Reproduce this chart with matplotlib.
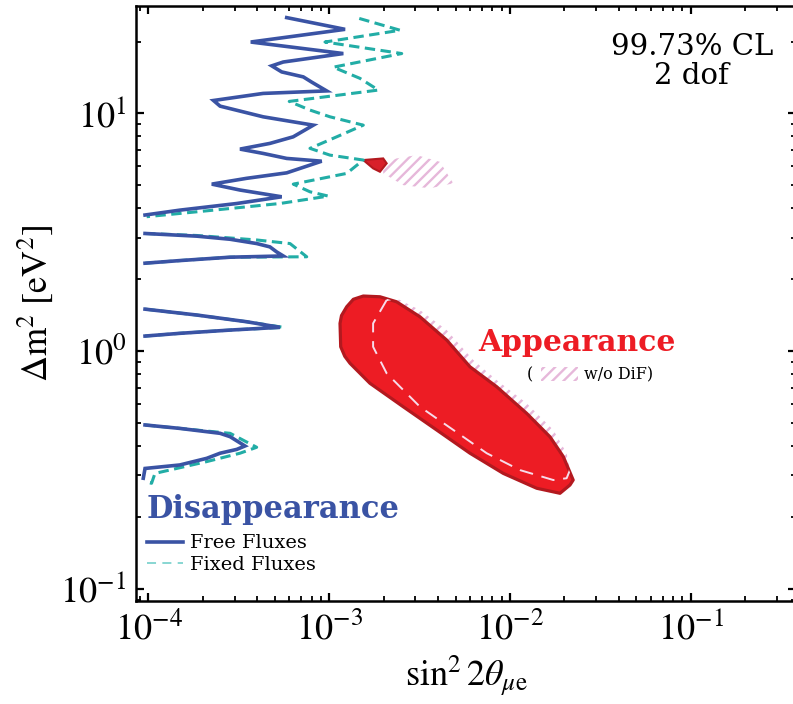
import matplotlib
matplotlib.use("Agg")
import matplotlib.pyplot as plt
from matplotlib.patches import Polygon, Rectangle
from matplotlib.lines import Line2D

plt.rcParams['font.family'] = ['STIXGeneral', 'DejaVu Serif']
plt.rcParams['mathtext.fontset'] = 'stix'
plt.rcParams['hatch.linewidth'] = 1.7

# ---------------- data ----------------
# Disappearance, free fluxes (solid blue), segments from top to bottom
free_a_x = [5.82e-4, 1.224e-3, 3.68e-4, 1.197e-3, 5.57e-4, 4.81e-4, 5.46e-4, 7.19e-4, 8.0e-4,
            9.68e-4, 4.31e-4, 2.29e-4, 2.49e-4, 4.31e-4, 8.17e-4, 6.32e-4, 4.70e-4, 3.21e-4,
            4.31e-4, 5.82e-4, 9.09e-4, 5.82e-4, 3.49e-4, 2.24e-4, 3.21e-4, 5.46e-4, 3.08e-4,
            1.49e-4, 9.57e-5]
free_a_y = [25.2, 22.5, 19.9, 17.8, 16.4, 15.8, 14.9, 14.2, 13.5,
            12.4, 12.1, 11.3, 10.7, 9.65, 8.9, 7.95, 7.46, 7.06,
            6.77, 6.45, 6.28, 5.61, 5.32, 5.03, 4.75, 4.45, 4.17,
            3.91, 3.73]
free_b_x = [9.57e-5, 1.85e-4, 2.83e-4, 3.97e-4, 4.70e-4, 5.12e-4, 5.57e-4, 2.83e-4, 1.49e-4, 9.57e-5]
free_b_y = [3.12, 3.04, 2.95, 2.83, 2.74, 2.61, 2.51, 2.48, 2.40, 2.34]
free_c_x = [9.57e-5, 1.85e-4, 3.49e-4, 5.34e-4, 2.83e-4, 1.49e-4, 9.57e-5]
free_c_y = [1.50, 1.417, 1.328, 1.258, 1.225, 1.187, 1.156]
free_d_x = [9.57e-5, 1.49e-4, 2.49e-4, 2.83e-4, 3.42e-4, 3.08e-4, 2.49e-4, 2.10e-4, 1.49e-4,
            9.57e-5, 9.36e-5]
free_d_y = [0.489, 0.473, 0.451, 0.4365, 0.399, 0.386, 0.372, 0.354, 0.332, 0.321, 0.292]

# Disappearance, fixed fluxes (dashed teal)
fixed_a_x = [1.467e-3, 2.47e-3, 9.48e-4, 2.52e-3, 1.054e-3, 1.48e-3, 1.87e-3, 6.01e-4, 7.83e-4,
             1.01e-3, 1.544e-3, 1.10e-3, 7.83e-4, 1.01e-3, 1.544e-3, 1.25e-3, 6.33e-4, 7.83e-4,
             9.89e-4, 5.34e-4, 2.29e-4, 9.77e-5]
fixed_a_y = [25.0, 22.3, 19.9, 17.8, 15.6, 14.0, 12.5, 11.2, 10.3,
             9.65, 8.9, 7.95, 7.11, 6.66, 6.35, 5.58, 5.03, 4.67,
             4.48, 4.17, 3.91, 3.67]
fixed_b_x = [9.57e-5, 1.85e-4, 3.97e-4, 6.07e-4, 7.51e-4, 2.83e-4, 1.49e-4, 9.57e-5]
fixed_b_y = [3.12, 3.06, 2.93, 2.83, 2.49, 2.48, 2.40, 2.34]
fixed_c_x = [9.57e-5, 1.85e-4, 3.49e-4, 5.57e-4, 2.83e-4, 1.49e-4, 9.57e-5]
fixed_c_y = [1.50, 1.417, 1.328, 1.258, 1.225, 1.187, 1.156]
fixed_d_x = [9.57e-5, 1.49e-4, 2.83e-4, 3.97e-4, 3.21e-4, 2.10e-4, 1.086e-4, 1.04e-4, 9.57e-5]
fixed_d_y = [0.489, 0.473, 0.451, 0.394, 0.372, 0.343, 0.306, 0.278, 0.283]

# Appearance (filled red)
app_x = [1.544e-3, 1.36e-3, 1.25e-3, 1.17e-3, 1.148e-3, 1.158e-3, 1.22e-3, 1.304e-3, 1.68e-3,
         2.57e-3, 3.93e-3, 6.01e-3, 9.19e-3, 1.407e-2, 1.893e-2, 2.15e-2, 2.24e-2, 1.975e-2,
         1.667e-2, 1.239e-2, 8.45e-3, 6.01e-3, 4.47e-3, 3.18e-3, 2.36e-3, 1.91e-3]
app_y = [1.703, 1.65, 1.535, 1.41, 1.307, 1.042, 0.95, 0.888, 0.732,
         0.583, 0.466, 0.372, 0.306, 0.265, 0.2524, 0.2735, 0.287, 0.36,
         0.436, 0.547, 0.708, 0.859, 1.112, 1.393, 1.611, 1.691]
app_small_x = [1.544e-3, 1.99e-3, 2.08e-3, 1.91e-3, 1.75e-3]
app_small_y = [6.35, 6.45, 6.15, 5.67, 5.86]

# Appearance without DiF (hatched)
nodif_x = [2.08e-3, 1.75e-3, 1.75e-3, 2.08e-3, 3.18e-3, 4.86e-3, 7.44e-3, 1.137e-2, 1.738e-2,
           2.06e-2, 2.15e-2, 2.06e-2, 1.738e-2, 1.239e-2, 8.45e-3, 6.27e-3, 4.47e-3, 3.18e-3,
           2.36e-3]
nodif_y = [1.638, 1.307, 1.042, 0.806, 0.583, 0.466, 0.372, 0.316, 0.287,
           0.292, 0.316, 0.372, 0.466, 0.603, 0.755, 0.917, 1.225, 1.487,
           1.665]
nodif_small_x = [1.99e-3, 2.36e-3, 3.05e-3, 4.10e-3, 4.86e-3, 3.61e-3, 2.57e-3, 1.99e-3]
nodif_small_y = [6.15, 6.45, 6.66, 6.24, 5.07, 4.83, 4.98, 5.58]

x_limits = [8.53e-5, 0.383]
y_limits = [0.089, 28.2]

# ---------------- styles ----------------
BLUE = '#3a53a4'
TEAL = '#22ada6'
RED = '#ed1c24'
DARKRED = '#b3191f'
PINK = '#e6b8da'

fig = plt.figure(figsize=(7.93, 7.04), dpi=100)
ax = fig.add_axes([136 / 793, 1 - 601 / 704, 660 / 793, 595 / 704])
ax.set_xscale('log')
ax.set_yscale('log')
ax.set_xlim(*x_limits)
ax.set_ylim(*y_limits)

# hatched (w/o DiF)
for xs, ys in [(nodif_x, nodif_y), (nodif_small_x, nodif_small_y)]:
    ax.add_patch(Polygon(list(zip(xs, ys)), closed=True, fill=False, hatch='///',
                         edgecolor=PINK, linewidth=0, zorder=2))

# red appearance
red_big = Polygon(list(zip(app_x, app_y)), closed=True, facecolor=RED,
                  edgecolor=DARKRED, linewidth=2.3, zorder=3, joinstyle='round')
ax.add_patch(red_big)
ax.add_patch(Polygon(list(zip(app_small_x, app_small_y)), closed=True, facecolor='#d8202a',
                     edgecolor=DARKRED, linewidth=1.5, zorder=3))
# boundary of w/o-DiF region seen through the red region
dl, = ax.plot(nodif_x + nodif_x[:1], nodif_y + nodif_y[:1], color='#f7dcea', lw=1.4,
              linestyle=(0, (7, 4.5)), zorder=4)
dl.set_clip_path(red_big)

# disappearance
for xs, ys in [(fixed_a_x, fixed_a_y), (fixed_b_x, fixed_b_y),
               (fixed_c_x, fixed_c_y), (fixed_d_x, fixed_d_y)]:
    ax.plot(xs, ys, color=TEAL, lw=2.2, linestyle=(0, (3.4, 1.8)), zorder=5)
for xs, ys in [(free_a_x, free_a_y), (free_b_x, free_b_y),
               (free_c_x, free_c_y), (free_d_x, free_d_y)]:
    ax.plot(xs, ys, color=BLUE, lw=2.6, zorder=6, solid_joinstyle='miter')

# axes styling
for sp in ax.spines.values():
    sp.set_linewidth(1.8)
ax.tick_params(which='both', direction='in', top=True, right=True, labelsize=26)
ax.tick_params(which='major', length=6, width=1.6, pad=7)
ax.tick_params(which='minor', length=3.8, width=1.3)
ax.tick_params(axis='x', which='major', pad=8)

ax.set_xlabel(r'$\sin^2 2\theta_{\mu \mathrm{e}}$', fontsize=26, labelpad=4)
ax.set_ylabel(r'$\Delta \mathrm{m}^2\ [\mathrm{eV}^2]$', fontsize=26, labelpad=4)

# annotations
ax.text(0.842, 0.906, '99.73% CL\n2 dof', transform=ax.transAxes, ha='center', va='center',
        fontsize=21, family='DejaVu Serif', linespacing=1.05)
ax.text(0.668, 0.435, 'Appearance', transform=ax.transAxes, ha='center', va='center',
        fontsize=21.5, fontweight='bold', color=RED, family='DejaVu Serif')
ax.text(0.597, 0.380, '(', transform=ax.transAxes, ha='center', va='center',
        fontsize=11.5, family='DejaVu Serif')
ax.add_patch(Rectangle((0.614, 0.3697), 0.056, 0.0235, transform=ax.transAxes, fill=False,
                       hatch='///', edgecolor=PINK, linewidth=0))
ax.text(0.679, 0.380, 'w/o DiF)', transform=ax.transAxes, ha='left', va='center',
        fontsize=11.5, family='DejaVu Serif')
ax.text(0.016, 0.153, 'Disappearance', transform=ax.transAxes, ha='left', va='center',
        fontsize=22, fontweight='bold', color=BLUE, family='DejaVu Serif')

handles = [Line2D([], [], color=BLUE, lw=2.6),
           Line2D([], [], color='#7fd3cf', lw=1.3, linestyle=(0, (5, 3.5)))]
leg = ax.legend(handles, ['Free Fluxes', 'Fixed Fluxes'], loc='upper left',
                bbox_to_anchor=(0.016, 0.112), frameon=False, borderpad=0, borderaxespad=0,
                handlelength=1.85, handletextpad=0.4, labelspacing=0.2,
                prop={'family': 'DejaVu Serif', 'size': 14})

fig.savefig('out.png', dpi=100)
